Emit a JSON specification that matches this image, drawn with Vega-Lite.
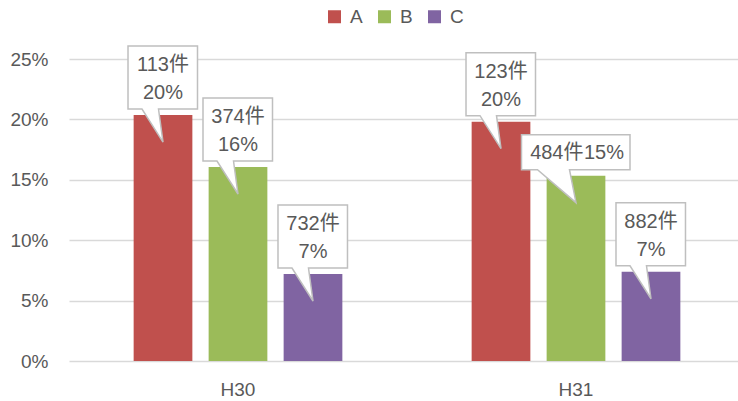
{
  "$schema": "https://vega.github.io/schema/vega-lite/v6.json",
  "width": 669,
  "height": 302,
  "autosize": "none",
  "padding": {"left": 69, "top": 59, "right": 0, "bottom": 40},
  "background": "white",
  "config": {
    "view": {"stroke": null},
    "font": "Liberation Sans, Noto Sans CJK JP",
    "legend": {
      "orient": "none",
      "legendX": 256,
      "legendY": -52,
      "direction": "horizontal",
      "padding": 0,
      "symbolType": "square",
      "symbolSize": 169,
      "symbolStrokeWidth": 0,
      "symbolOpacity": 1,
      "labelFontSize": 19,
      "labelColor": "#595959",
      "labelOffset": 6,
      "columnPadding": 12
    }
  },
  "data": {
    "values": [
      {"group": "H30", "series": "A", "value": 0.2036, "count": "113件"},
      {"group": "H30", "series": "B", "value": 0.1606, "count": "374件"},
      {"group": "H30", "series": "C", "value": 0.0720, "count": "732件"},
      {"group": "H31", "series": "A", "value": 0.1981, "count": "123件"},
      {"group": "H31", "series": "B", "value": 0.1534, "count": "484件"},
      {"group": "H31", "series": "C", "value": 0.0739, "count": "882件"}
    ]
  },
  "encoding": {
    "x": {
      "field": "group",
      "type": "nominal",
      "scale": {"range": [0, 676], "paddingInner": 0, "paddingOuter": 0},
      "axis": {"title": null, "labelAngle": 0, "domain": false, "ticks": false, "labelPadding": 19, "labelFontSize": 19, "labelColor": "#595959"}
    },
    "xOffset": {
      "field": "series",
      "type": "nominal",
      "scale": {"paddingInner": 0.217, "paddingOuter": 0.862}
    },
    "y": {
      "field": "value",
      "type": "quantitative",
      "scale": {"domain": [0, 0.25], "nice": false},
      "axis": {"title": null, "format": ".0%", "values": [0, 0.05, 0.1, 0.15, 0.2, 0.25], "domain": false, "ticks": false, "labelPadding": 21, "labelFontSize": 19, "labelColor": "#595959", "gridColor": "#d9d9d9", "gridWidth": 1.5}
    }
  },
  "layer": [
    {
      "mark": {"type": "bar"},
      "encoding": {
        "color": {
          "field": "series",
          "type": "nominal",
          "scale": {"domain": ["A", "B", "C"], "range": ["#C0504D", "#9BBB59", "#8064A2"]},
          "legend": {"title": null}
        }
      }
    },
    {
      "transform": [{"filter": "datum.group != 'H31' || datum.series != 'B'"}],
      "mark": {
        "type": "point",
        "shape": "M-35,-96H34.5V-33H-4.5L0,0L-21,-33H-35Z",
        "size": 4,
        "filled": true,
        "fill": "white",
        "stroke": "#bfbfbf",
        "strokeWidth": 1.5,
        "opacity": 1,
        "yOffset": 27
      }
    },
    {
      "transform": [{"filter": "datum.group == 'H31' && datum.series == 'B'"}],
      "mark": {
        "type": "point",
        "shape": "M-54.5,-68H54V-33H-6.5L0,0L-38.5,-33H-54.5Z",
        "size": 4,
        "filled": true,
        "fill": "white",
        "stroke": "#bfbfbf",
        "strokeWidth": 1.5,
        "opacity": 1,
        "yOffset": 27
      }
    },
    {
      "transform": [{"filter": "datum.group != 'H31' || datum.series != 'B'"}],
      "mark": {"type": "text", "fontSize": 20, "color": "#595959", "baseline": "middle", "yOffset": -50},
      "encoding": {"text": {"field": "count"}}
    },
    {
      "transform": [{"filter": "datum.group != 'H31' || datum.series != 'B'"}],
      "mark": {"type": "text", "fontSize": 20, "color": "#595959", "baseline": "middle", "yOffset": -21.7},
      "encoding": {"text": {"field": "value", "type": "quantitative", "format": ".0%"}}
    },
    {
      "transform": [{"filter": "datum.group == 'H31' && datum.series == 'B'"}],
      "mark": {"type": "text", "fontSize": 20, "color": "#595959", "baseline": "middle", "align": "right", "dx": 7.5, "yOffset": -22.4},
      "encoding": {"text": {"field": "count"}}
    },
    {
      "transform": [{"filter": "datum.group == 'H31' && datum.series == 'B'"}],
      "mark": {"type": "text", "fontSize": 20, "color": "#595959", "baseline": "middle", "align": "left", "dx": 8, "yOffset": -22.4},
      "encoding": {"text": {"field": "value", "type": "quantitative", "format": ".0%"}}
    }
  ]
}
